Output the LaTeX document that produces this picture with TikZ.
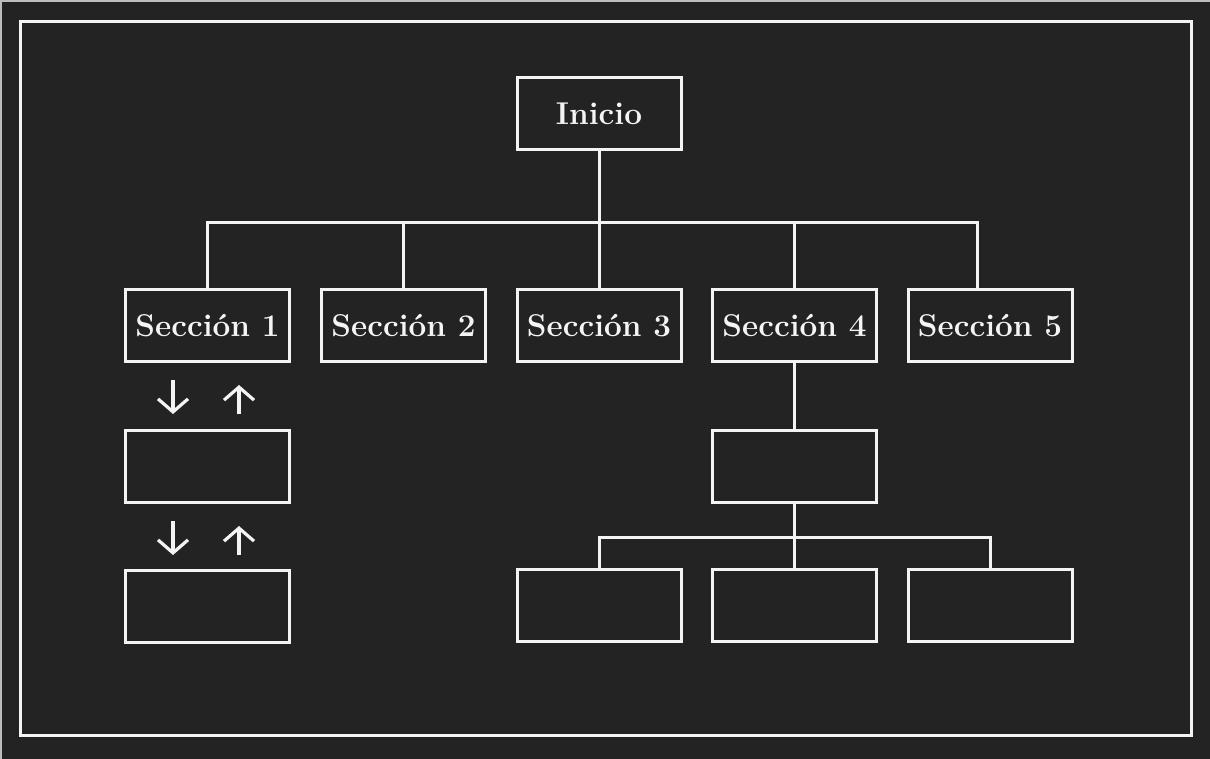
\documentclass[tikz,border=0pt]{standalone}
\usetikzlibrary{arrows.meta}
\definecolor{bgc}{HTML}{232323}
\definecolor{fg}{HTML}{F4F4F4}
\definecolor{edgec}{HTML}{BDBDBD}
\begin{document}
\begin{tikzpicture}[x=1pt,y=-1pt,
  box/.style={draw=fg, line width=3pt, minimum width=164pt, minimum height=72pt, inner sep=0pt,
    text=fg, font=\fontsize{31.5}{36}\selectfont\bfseries},
  conn/.style={draw=fg, line width=3pt},
  arr/.style={draw=fg, line width=3.2pt, -{Straight Barb[length=13pt,width=30pt]}},
]
\useasboundingbox (0,0) rectangle (1210,759);
\fill[bgc] (0,0) rectangle (1210,759);
\draw[edgec, line width=2pt] (0,1) -- (1210,1);
\draw[edgec, line width=2pt] (1,0) -- (1,759);
\draw[fg, line width=3pt] (20.5,21.5) rectangle (1191.5,735.5);

\node[box] (ini) at (599,114) {Inicio};
\node[box] (s1) at (207.5,325.5) {Sección 1};
\node[box] (s2) at (403.5,325.5) {Sección 2};
\node[box] (s3) at (599,325.5) {Sección 3};
\node[box] (s4) at (794.5,325.5) {Sección 4};
\node[box] (s5) at (990,325.5) {Sección 5};
\node[box] (a1) at (207.5,466.5) {};
\node[box] (a2) at (207.5,606.5) {};
\node[box] (c0) at (794.5,466) {};
\node[box] (c1) at (599,605) {};
\node[box] (c2) at (794.5,605) {};
\node[box] (c3) at (990,605) {};

\coordinate (bus) at (0,223);
\coordinate (s5top) at (977,289.5);
\draw[conn] (ini.south) -- (ini.south |- bus);
\draw[conn] (s1.north) -- (s1.north |- bus) -- (s5top |- bus) -- (s5top);
\draw[conn] (s2.north) -- (s2.north |- bus);
\draw[conn] (s3.north) -- (s3.north |- bus);
\draw[conn] (s4.north) -- (s4.north |- bus);

\draw[conn] (s4.south) -- (c0.north);
\coordinate (bus2) at (0,537);
\draw[conn] (c0.south) -- (c0.south |- bus2);
\draw[conn] (c1.north) -- (c1.north |- bus2) -- (c3.north |- bus2) -- (c3.north);
\draw[conn] (c2.north) -- (c2.north |- bus2);

\coordinate (d1s) at (173,380); \coordinate (d1e) at (173,414);
\coordinate (u1s) at (239,414); \coordinate (u1e) at (239,385);
\coordinate (d2s) at (173,521); \coordinate (d2e) at (173,555);
\coordinate (u2s) at (239,555); \coordinate (u2e) at (239,526);
\draw[arr] (d1s) -- (d1e);
\draw[arr] (u1s) -- (u1e);
\draw[arr] (d2s) -- (d2e);
\draw[arr] (u2s) -- (u2e);
\end{tikzpicture}
\end{document}
